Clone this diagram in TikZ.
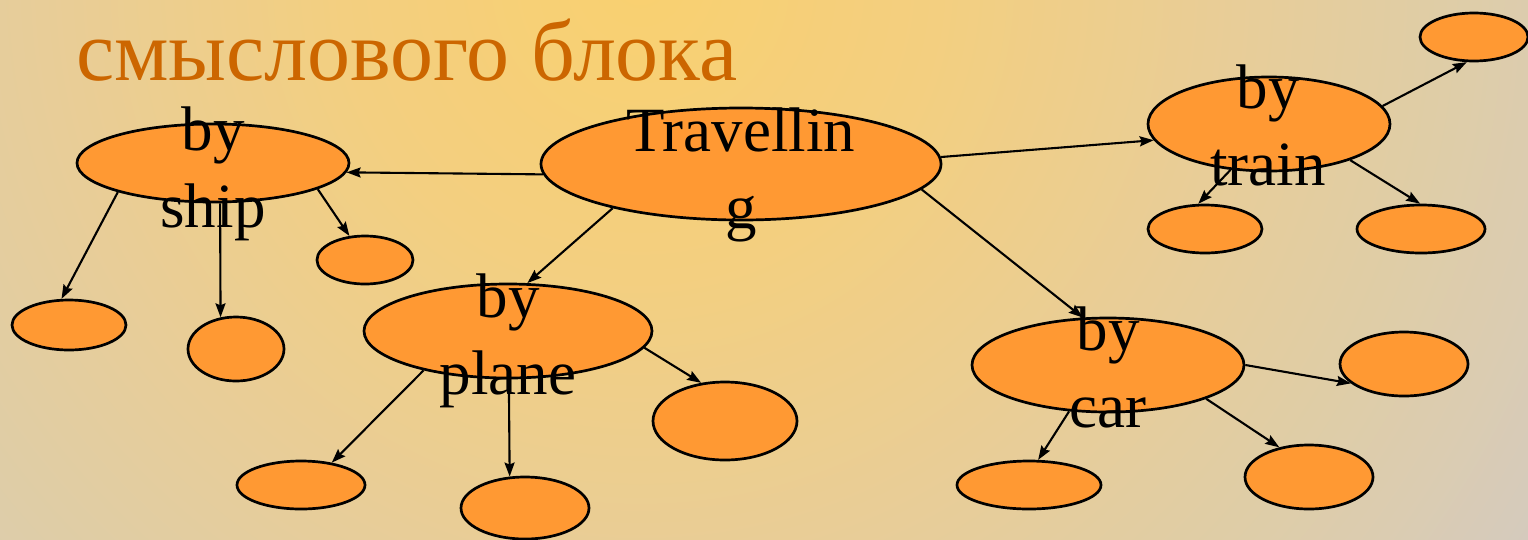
\documentclass[tikz,border=0pt]{standalone}
\usepackage{fontspec}
\setmainfont{Liberation Serif}
\usetikzlibrary{shapes.geometric,arrows.meta}
\definecolor{bg0}{HTML}{F9D070}
\definecolor{bg1}{HTML}{F3CF80}
\definecolor{bg2}{HTML}{E8CD98}
\definecolor{bg3}{HTML}{DFCDA6}
\definecolor{bg4}{HTML}{DBCCB1}
\definecolor{bg5}{HTML}{D3CAC0}
\definecolor{ovfill}{HTML}{FF9933}
\definecolor{titlecol}{HTML}{CC6600}
\pgfdeclareradialshading{bgshade}{\pgfpoint{0bp}{0bp}}{color(0bp)=(bg0); color(6.8bp)=(bg1); color(13.6bp)=(bg2); color(18.2bp)=(bg3); color(21.1bp)=(bg4); color(24.5bp)=(bg5); color(50bp)=(bg5)}
\tikzset{
  ov/.style={ellipse, draw=black, line width=2.7pt, fill=ovfill, inner sep=0pt},
  lbl/.style={anchor=north, inner sep=0pt, align=center, font=\fontsize{63}{77}\selectfont},
  arr/.style={line width=2.1pt, -{Stealth[length=14pt,width=10pt,inset=2pt]}}
}
\begin{document}
\begin{tikzpicture}[x=1pt,y=-1pt]
\useasboundingbox (0,0) rectangle (1528,539);
\begin{scope}
  \clip (0,0) rectangle (1528,539);
  \shade[shading=bgshade] (640,-20) circle (1100);
\end{scope}
\node[anchor=base west, inner sep=0pt, text=titlecol, font=\fontsize{86}{100}\selectfont] (title) at (76,80) {смыслового блока};
% main ellipses
\node[ov, minimum width=400pt, minimum height=112pt] (T) at (741,164) {};
\node[ov, minimum width=272pt, minimum height=78pt] (S) at (213,163) {};
\node[ov, minimum width=242pt, minimum height=94pt] (R) at (1269,124) {};
\node[ov, minimum width=288pt, minimum height=94pt] (P) at (508,331) {};
\node[ov, minimum width=272pt, minimum height=94pt] (C) at (1108,365) {};
% small ellipses
\node[ov, minimum width=114pt, minimum height=50pt] (sLL) at (69,325) {};
\node[ov, minimum width=96pt, minimum height=64pt] (sLM) at (236,349) {};
\node[ov, minimum width=96pt, minimum height=48pt] (sR) at (365,260) {};
\node[ov, minimum width=108pt, minimum height=48pt] (rTR) at (1474,37) {};
\node[ov, minimum width=114pt, minimum height=48pt] (rLL) at (1205,229) {};
\node[ov, minimum width=128pt, minimum height=48pt] (rLR) at (1421,229) {};
\node[ov, minimum width=128pt, minimum height=48pt] (pLL) at (301,485) {};
\node[ov, minimum width=128pt, minimum height=62pt] (pLM) at (525,508) {};
\node[ov, minimum width=144pt, minimum height=78pt] (pR) at (725,421) {};
\node[ov, minimum width=144pt, minimum height=48pt] (cLL) at (1029,485) {};
\node[ov, minimum width=128pt, minimum height=64pt] (cR) at (1404,364) {};
\node[ov, minimum width=128pt, minimum height=64pt] (cLR) at (1309,477) {};
% connectors
\draw[arr] (T.183) -- (S.-4);
\draw[arr] (T.2.3) -- (R.-172);
\draw[arr] (T.199) -- (P.68);
\draw[arr] (T.-8) -- (C.118);
\draw[arr] (S.-163.7) -- (sLL.106);
\draw[arr] (S.-80.5) -- (sLM.116.6);
\draw[arr] (S.-14.4) -- (sR.123);
\draw[arr] (R.9.3) -- (rTR.-106);
\draw[arr] (R.-130.3) -- (rLL.105);
\draw[arr] (R.-24.3) -- (rLR.92);
\draw[arr] (P.-155.5) -- (pLL.36.3);
\draw[arr] (P.-89) -- (pLM.116.6);
\draw[arr] (P.-7.5) -- (pR.122);
\draw[arr] (C.-130.5) -- (cLL.70);
\draw[arr] (C.0) -- (cR.-160.5);
\draw[arr] (C.-19.8) -- (cLR.135.9);
% labels
\node[lbl] (tT) at (741,108) {Travellin\\g};
\node[lbl] (tS) at (213,107) {by\\ship};
\node[lbl] (tR) at (1268,65) {by\\train};
\node[lbl] (tP) at (508,274) {by\\plane};
\node[lbl] (tC) at (1108,307) {by\\car};
\end{tikzpicture}
\end{document}
